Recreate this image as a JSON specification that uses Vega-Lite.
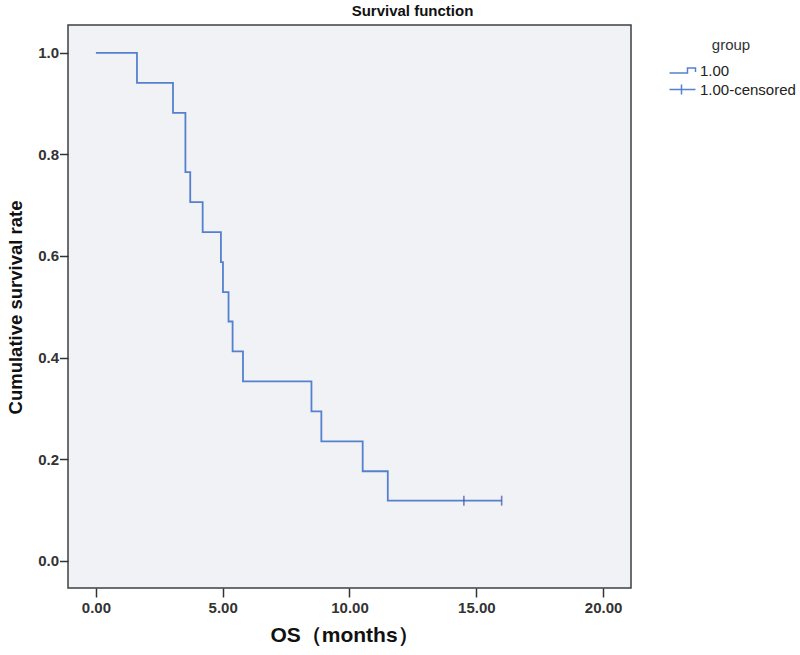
{
  "$schema": "https://vega.github.io/schema/vega-lite/v6.json",
  "width": 563,
  "height": 563,
  "autosize": {"type": "none"},
  "padding": {"left": 68, "top": 25, "right": 169, "bottom": 67},
  "background": "white",
  "title": {
    "text": "Survival function",
    "anchor": "middle",
    "frame": "group",
    "dx": 63,
    "offset": 6,
    "fontSize": 15,
    "fontWeight": "bold",
    "font": "Liberation Sans Narrow, Liberation Sans, sans-serif",
    "color": "#111111"
  },
  "config": {
    "view": {"stroke": "#3a4242", "strokeWidth": 1.5, "fill": "#f1f2f5"},
    "axis": {
      "domain": false,
      "grid": false,
      "tickColor": "#333333",
      "tickWidth": 1.5,
      "labelFont": "Liberation Sans",
      "labelFontSize": 15,
      "labelFontWeight": "bold",
      "labelColor": "#333333",
      "titleFont": "Liberation Sans",
      "titleFontSize": 18,
      "titleFontWeight": "bold",
      "titleColor": "#111111"
    },
    "legend": {"labelFont": "Liberation Sans", "titleFont": "Liberation Sans"}
  },
  "datasets": {
    "km": [
      {"t": 0, "s": 1.0},
      {"t": 1.62, "s": 0.941},
      {"t": 3.04, "s": 0.882},
      {"t": 3.53, "s": 0.765},
      {"t": 3.72, "s": 0.706},
      {"t": 4.21, "s": 0.647},
      {"t": 4.93, "s": 0.588},
      {"t": 5.01, "s": 0.529},
      {"t": 5.23, "s": 0.471},
      {"t": 5.39, "s": 0.412},
      {"t": 5.8, "s": 0.353},
      {"t": 8.5, "s": 0.294},
      {"t": 8.89, "s": 0.235},
      {"t": 10.52, "s": 0.176},
      {"t": 11.51, "s": 0.118},
      {"t": 16.0, "s": 0.118}
    ],
    "censored": [
      {"t": 14.51, "s": 0.118, "series": "1.00-censored"},
      {"t": 16.0, "s": 0.118, "series": "1.00-censored"}
    ]
  },
  "layer": [
    {
      "data": {"name": "km"},
      "mark": {"type": "line", "interpolate": "step-after", "color": "#5580d0", "strokeWidth": 1.8},
      "encoding": {
        "x": {
          "field": "t",
          "type": "quantitative",
          "scale": {"domain": [-1.1, 21.1], "nice": false, "zero": false},
          "axis": {
            "title": "OS（months）",
            "values": [0, 5, 10, 15, 20],
            "format": ".2f",
            "tickSize": 9,
            "labelPadding": 3,
            "titleFontSize": 21,
            "titleX": 276,
            "titleY": 47,
            "titleAlign": "center",
            "titleBaseline": "middle"
          }
        },
        "y": {
          "field": "s",
          "type": "quantitative",
          "scale": {"domain": [-0.054, 1.055], "nice": false, "zero": false},
          "axis": {
            "title": "Cumulative survival rate",
            "values": [0, 0.2, 0.4, 0.6, 0.8, 1.0],
            "format": ".1f",
            "tickSize": 8.5,
            "labelPadding": 1,
            "titleFontSize": 18.5,
            "titleAngle": -90,
            "titleX": -53,
            "titleY": 282,
            "titleAlign": "center",
            "titleBaseline": "middle"
          }
        }
      }
    },
    {
      "data": {"name": "censored"},
      "mark": {"type": "tick", "orient": "vertical", "size": 10, "thickness": 1.6, "color": "#3b4fa6"},
      "encoding": {
        "x": {"field": "t", "type": "quantitative"},
        "y": {"field": "s", "type": "quantitative"}
      }
    },
    {
      "data": {"name": "censored"},
      "mark": {"type": "point", "filled": false, "opacity": 0},
      "encoding": {
        "x": {"field": "t", "type": "quantitative"},
        "y": {"field": "s", "type": "quantitative"},
        "shape": {
          "field": "series",
          "type": "nominal",
          "scale": {
            "domain": ["1.00", "1.00-censored"],
            "range": ["M-1,0.5L2.6,0.5L2.6,-0.5L4.2,-0.5L4.2,0.3", "M-1,0L4.2,0M1.4,-1L1.4,1"]
          },
          "legend": {
            "title": "group",
            "orient": "none",
            "legendX": 599,
            "legendY": 13,
            "titleFontSize": 15,
            "titleFontWeight": "normal",
            "titleColor": "#333333",
            "titleAnchor": "middle",
            "titleAlign": "center",
            "titlePadding": 10,
            "labelFontSize": 15,
            "labelColor": "#222222",
            "labelOffset": 18,
            "symbolSize": 100,
            "symbolStrokeColor": "#5580d0",
            "symbolStrokeWidth": 1.5,
            "symbolFillColor": "transparent",
            "symbolOpacity": 1,
            "rowPadding": 2
          }
        }
      }
    }
  ]
}
